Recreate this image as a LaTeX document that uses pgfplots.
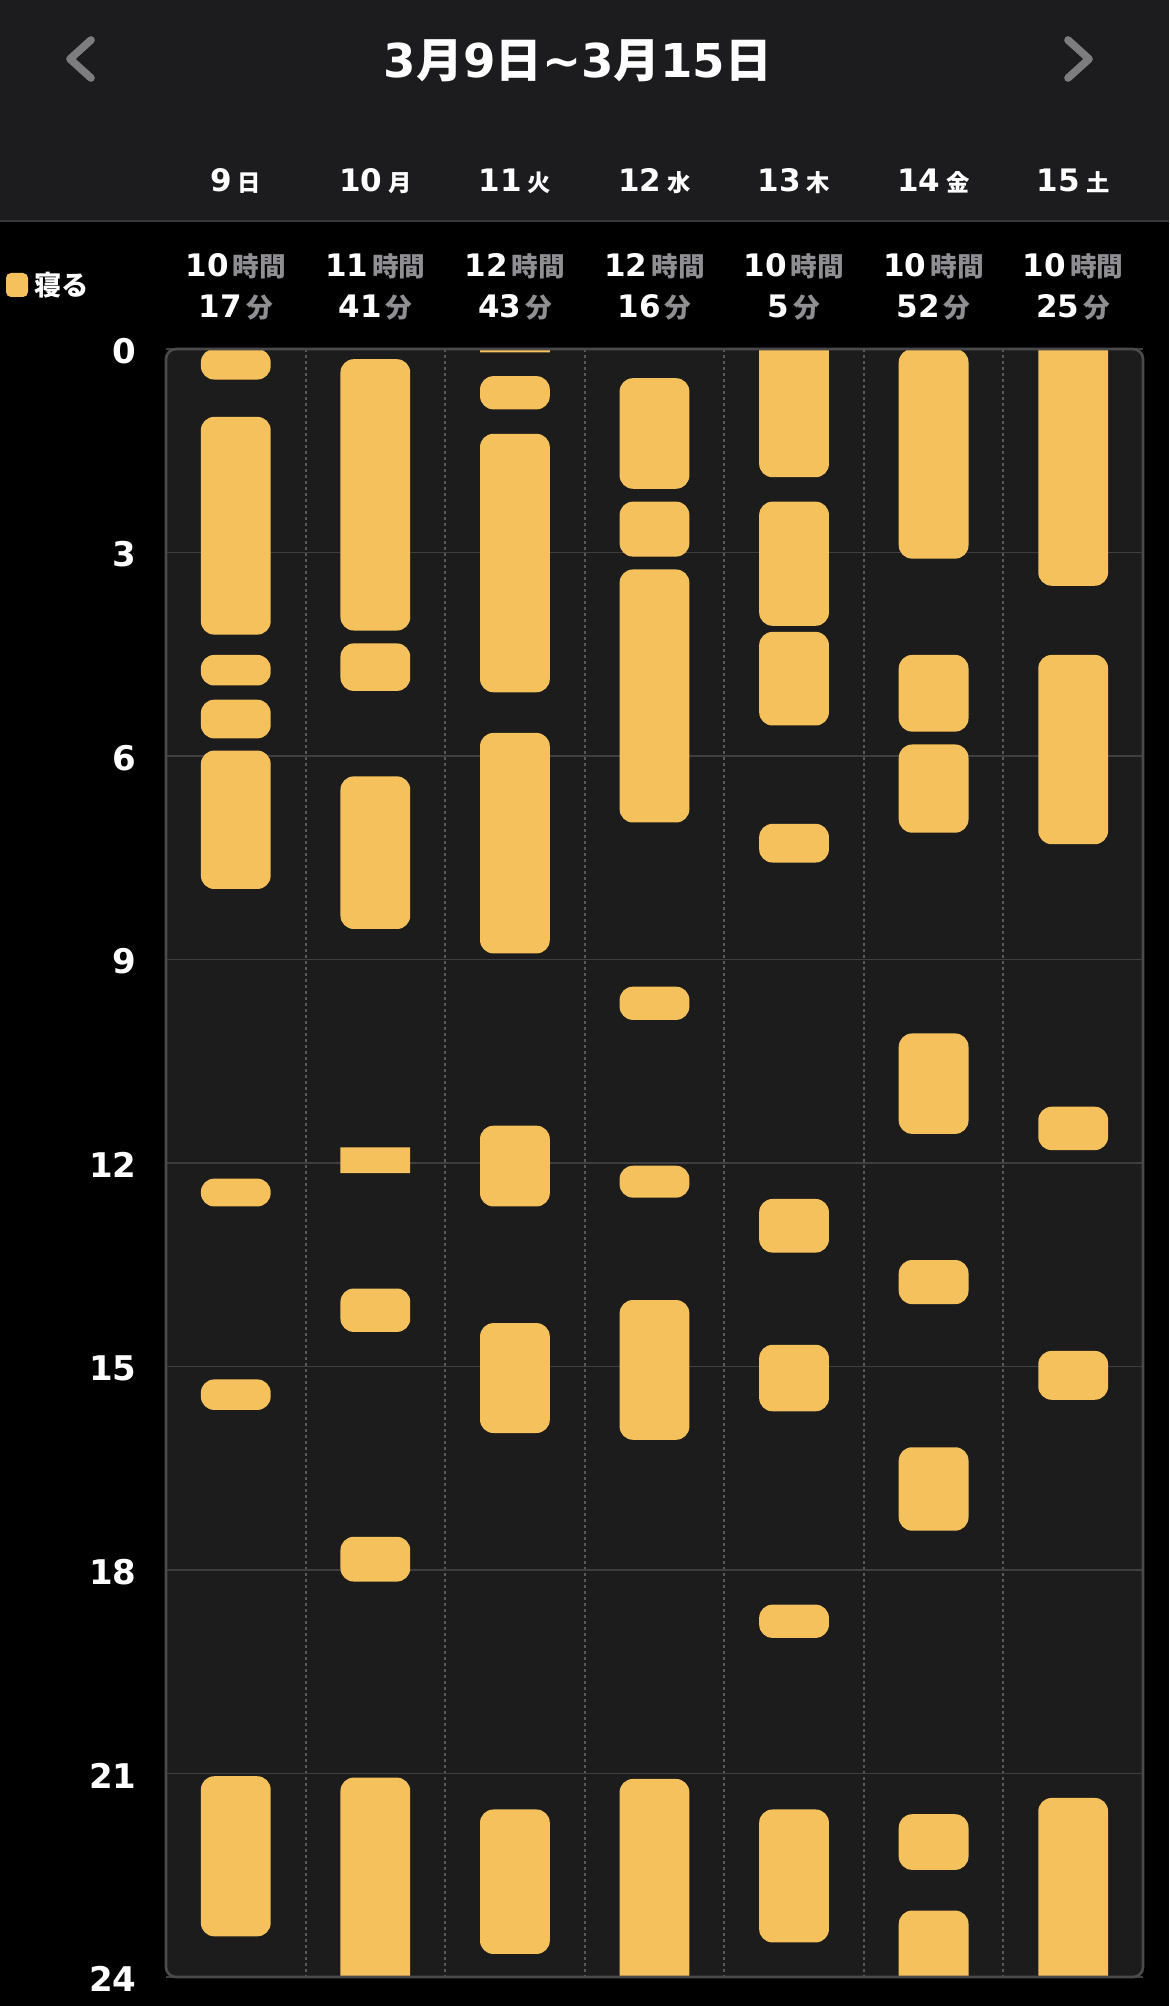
\documentclass[border=0pt]{standalone}
\usepackage{fontspec}
\setmainfont{DejaVu Sans}
\newfontfamily\cjk{Noto Sans CJK JP}
\usepackage{pgfplots}
\pgfplotsset{compat=1.18}
\definecolor{hdr}{RGB}{28,28,30}
\definecolor{plotbg}{RGB}{28,28,28}
\definecolor{sleep}{RGB}{244,193,92}
\definecolor{unit}{RGB}{142,142,147}
\definecolor{chev}{RGB}{125,125,128}
\definecolor{gridc}{RGB}{62,62,64}
\definecolor{vgrid}{RGB}{88,88,90}
\definecolor{framec}{RGB}{74,74,76}
\definecolor{sepc}{RGB}{58,58,60}
\newcommand\J[1]{{\cjk #1}}
\pgfplotsset{
  sleepstyle/.style={fill=sleep, draw=none, rounded corners=4pt, forget plot},
  sleepsharp/.style={fill=sleep, draw=none, sharp corners, forget plot},
}
% one sleep period: day, start hour, end hour
\newcommand{\sleepbar}[3]{\addplot[sleepstyle] table[row sep=\\, x expr=#1+\thisrow{o}, y=y] {o y\\ 0 #2\\ 0.25 #2\\ 0.25 #3\\ -0.25 #3\\ -0.25 #2\\ 0 #2\\};}
\newcommand{\sleepsq}[3]{\addplot[sleepsharp] table[row sep=\\, x expr=#1+\thisrow{o}, y=y] {o y\\ 0 #2\\ 0.25 #2\\ 0.25 #3\\ -0.25 #3\\ -0.25 #2\\ 0 #2\\};}
% period continuing from the previous day (starts before 0) / into the next day (ends after 24)
\newcommand{\sleepfrom}[2]{\sleepbar{#1}{-0.5}{#2}}
\newcommand{\sleepto}[2]{\sleepbar{#1}{#2}{24.5}}
\begin{document}
\begin{tikzpicture}
\useasboundingbox (0pt,0pt) rectangle (350.7pt,-601.8pt);
\fill[black] (0pt,0pt) rectangle (350.7pt,-601.8pt);
\fill[hdr] (0pt,0pt) rectangle (350.7pt,-66.3pt);
\draw[sepc, line width=0.5pt] (0pt,-66.3pt) -- (350.7pt,-66.3pt);
% chevrons
\draw[chev, line width=2.3pt, line cap=round, line join=round] (27.3pt,-12pt) -- (21pt,-17.7pt) -- (27.3pt,-23.4pt);
\draw[chev, line width=2.3pt, line cap=round, line join=round] (320.4pt,-12pt) -- (326.7pt,-17.7pt) -- (320.4pt,-23.4pt);
% title
\node[anchor=base, inner sep=0pt, text=white] at (173.4pt,-23.2pt) {\bfseries\fontsize{14}{14}\selectfont 3\J{月}9\J{日}\textasciitilde 3\J{月}15\J{日}};
% legend
\fill[sleep, rounded corners=1.5pt] (1.8pt,-81.9pt) rectangle (8.4pt,-89.1pt);
\node[anchor=west, inner sep=0pt, text=white] at (10.2pt,-85.5pt) {\cjk\bfseries\fontsize{8.2}{8.2}\selectfont 寝る};
% day labels and totals
\foreach \i/\d/\w/\h/\m in {1/9/日/10/17, 2/10/月/11/41, 3/11/火/12/43, 4/12/水/12/16, 5/13/木/10/5, 6/14/金/10/52, 7/15/土/10/25} {
  \node[anchor=base, inner sep=0pt, text=white] at ({49.8pt+41.871pt*(\i-0.5)},-57.6pt) {\bfseries\fontsize{9.3}{9.3}\selectfont \d\hspace{1.8pt}{\cjk\fontsize{7}{7}\selectfont \w}};
  \node[anchor=base, inner sep=0pt, text=white] at ({49.8pt+41.871pt*(\i-0.5)},-83.1pt) {\bfseries\fontsize{9.3}{9.3}\selectfont \h\hspace{1.2pt}{\cjk\fontsize{8}{8}\selectfont\color{unit}時間}};
  \node[anchor=base, inner sep=0pt, text=white] at ({49.8pt+41.871pt*(\i-0.5)},-95.4pt) {\bfseries\fontsize{9.3}{9.3}\selectfont \m\hspace{1.2pt}{\cjk\fontsize{8}{8}\selectfont\color{unit}分}};
}
% plot background
\fill[plotbg, rounded corners=3pt] (49.8pt,-104.7pt) rectangle (342.9pt,-593.1pt);
\begin{axis}[
  at={(49.8pt,-104.7pt)}, anchor=north west,
  scale only axis, width=293.1pt, height=488.4pt,
  xmin=0.5, xmax=7.5, ymin=0, ymax=24, y dir=reverse,
  axis line style={draw=none},
  xtick={1.5,2.5,3.5,4.5,5.5,6.5}, xticklabels={},
  ytick={0,3,6,9,12,15,18,21,24},
  xmajorgrids, ymajorgrids,
  major x grid style={vgrid, line width=0.6pt, dash pattern=on 0.9pt off 0.9pt},
  major y grid style={gridc, line width=0.5pt},
  major tick length=0pt,
  /pgf/number format/assume math mode=true,
  yticklabel style={font=\fontsize{10.2}{10.2}\selectfont\bfseries, text=white, anchor=east, inner sep=0pt, xshift=-8.7pt, yshift=-0.6pt},
]
% 9 日
\sleepbar{1}{0}{0.45}
\sleepbar{1}{1.00}{4.21}
\sleepbar{1}{4.51}{4.96}
\sleepbar{1}{5.17}{5.74}
\sleepbar{1}{5.92}{7.96}
\sleepbar{1}{12.23}{12.64}
\sleepbar{1}{15.19}{15.64}
\sleepbar{1}{21.04}{23.40}
% 10 月
\sleepbar{2}{0.15}{4.15}
\sleepbar{2}{4.34}{5.04}
\sleepbar{2}{6.30}{8.55}
\sleepsq{2}{11.77}{12.15}
\sleepbar{2}{13.85}{14.49}
\sleepbar{2}{17.51}{18.17}
\sleepto{2}{21.06}
% 11 火
\sleepsq{3}{0}{0.05}
\sleepbar{3}{0.40}{0.89}
\sleepbar{3}{1.25}{5.06}
\sleepbar{3}{5.66}{8.91}
\sleepbar{3}{11.45}{12.64}
\sleepbar{3}{14.36}{15.98}
\sleepbar{3}{21.53}{23.66}
% 12 水
\sleepbar{4}{0.43}{2.06}
\sleepbar{4}{2.25}{3.06}
\sleepbar{4}{3.25}{6.98}
\sleepbar{4}{9.40}{9.89}
\sleepbar{4}{12.04}{12.51}
\sleepbar{4}{14.02}{16.08}
\sleepto{4}{21.08}
% 13 木
\sleepfrom{5}{1.89}
\sleepbar{5}{2.25}{4.08}
\sleepbar{5}{4.17}{5.55}
\sleepbar{5}{7.00}{7.57}
\sleepbar{5}{12.53}{13.32}
\sleepbar{5}{14.68}{15.66}
\sleepbar{5}{18.51}{19.00}
\sleepbar{5}{21.53}{23.49}
% 14 金
\sleepbar{6}{0}{3.09}
\sleepbar{6}{4.51}{5.64}
\sleepbar{6}{5.83}{7.13}
\sleepbar{6}{10.09}{11.57}
\sleepbar{6}{13.43}{14.08}
\sleepbar{6}{16.19}{17.42}
\sleepbar{6}{21.60}{22.42}
\sleepto{6}{23.02}
% 15 土
\sleepfrom{7}{3.49}
\sleepbar{7}{4.51}{7.30}
\sleepbar{7}{11.17}{11.81}
\sleepbar{7}{14.77}{15.49}
\sleepto{7}{21.36}
\end{axis}
\draw[framec, line width=0.8pt, rounded corners=3pt] (49.8pt,-104.7pt) rectangle (342.9pt,-593.1pt);
\end{tikzpicture}
\end{document}
